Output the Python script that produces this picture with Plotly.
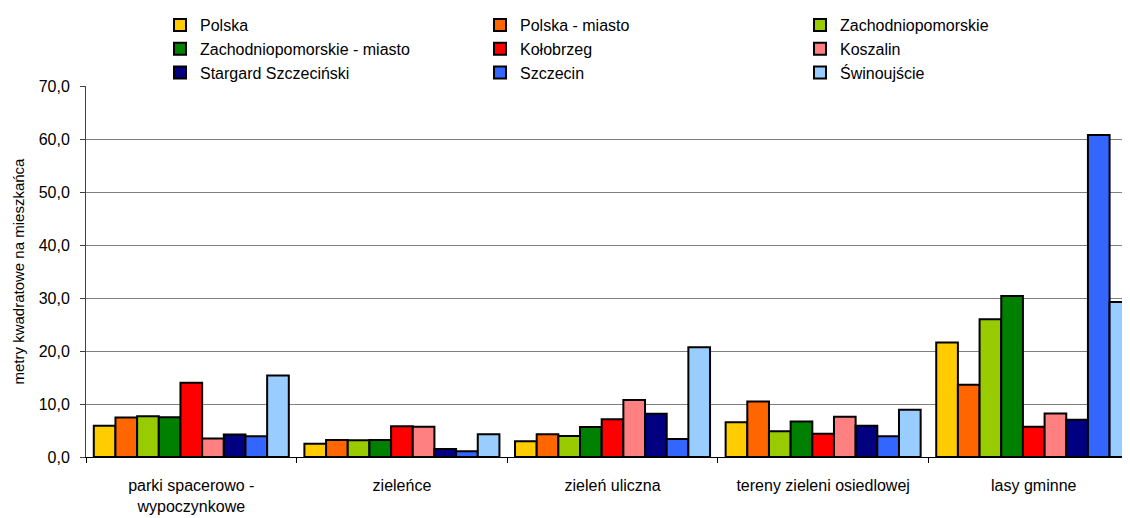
import plotly.graph_objects as go

categories = ["parki spacerowo -<br>wypoczynkowe", "zieleńce", "zieleń uliczna",
              "tereny zieleni osiedlowej", "lasy gminne"]

polska = [5.9, 2.5, 2.95, 6.55, 21.6]
polska_miasto = [7.45, 3.2, 4.3, 10.45, 13.65]
zachodniopomorskie = [7.7, 3.15, 3.95, 4.85, 26.0]
zachodniopomorskie_miasto = [7.5, 3.2, 5.65, 6.7, 30.4]
kolobrzeg = [14.0, 5.8, 7.1, 4.4, 5.7]
koszalin = [3.5, 5.7, 10.75, 7.6, 8.2]
stargard = [4.25, 1.5, 8.15, 5.9, 7.05]
szczecin = [3.9, 1.1, 3.4, 3.9, 60.75]
swinoujscie = [15.4, 4.3, 20.7, 8.9, 29.25]

series_names = ["Polska", "Polska - miasto", "Zachodniopomorskie",
                "Zachodniopomorskie - miasto", "Kołobrzeg", "Koszalin",
                "Stargard Szczeciński", "Szczecin", "Świnoujście"]
series_values = [polska, polska_miasto, zachodniopomorskie,
                 zachodniopomorskie_miasto, kolobrzeg, koszalin,
                 stargard, szczecin, swinoujscie]
series_colors = ["#FFCC00", "#FF6600", "#99CC00", "#008000", "#FF0000",
                 "#FF8080", "#000080", "#3366FF", "#99CCFF"]

y_ticks = [0, 10, 20, 30, 40, 50, 60, 70]
y_title = "metry kwadratowe na mieszkańca"

FONT = "Liberation Sans, Arial, sans-serif"

# the page places the figure 8 px from the window's top-left corner
W, H = 1122, 510
L, T, B, R = 78, 78, 61, 0

fig = go.Figure()
for name, vals, col in zip(series_names, series_values, series_colors):
    fig.add_trace(go.Bar(
        x=categories, y=vals, name=name,
        marker=dict(color=col, line=dict(color="#000000", width=2)),
    ))

fig.add_annotation(
    text=y_title, textangle=-90,
    xref="paper", yref="paper",
    x=(10 - L) / (W - L - R), y=0.5,
    xanchor="center", yanchor="middle",
    showarrow=False,
    font=dict(family=FONT, size=15, color="#000000"),
)

fig.update_layout(
    width=W, height=H,
    barmode="group", bargap=0.074, bargroupgap=0,
    plot_bgcolor="white", paper_bgcolor="white",
    separators=", ",
    font=dict(family=FONT, size=16, color="#000000"),
    margin=dict(l=L, r=R, t=T, b=B, autoexpand=False),
    showlegend=True,
    legend=dict(
        orientation="h",
        xref="container", yref="container",
        x=152 / W, xanchor="left",
        y=1, yanchor="top",
        entrywidth=275, entrywidthmode="pixels",
        font=dict(family=FONT, size=16, color="#000000"),
        bgcolor="rgba(0,0,0,0)",
        traceorder="normal",
        itemwidth=30,
        tracegroupgap=0,
    ),
    xaxis=dict(
        range=[-0.5, 4.457],
        tickson="boundaries",
        ticks="outside", ticklen=5, tickcolor="#000000", tickwidth=1,
        showline=True, linecolor="#000000", linewidth=1,
        showgrid=False,
        tickfont=dict(family=FONT, size=16, color="#000000"),
        ticklabelstandoff=14,
        fixedrange=True,
    ),
    yaxis=dict(
        range=[0, 70],
        tickvals=y_ticks,
        tickformat=".1f",
        ticks="outside", ticklen=5, tickcolor="#404040", tickwidth=1,
        showline=True, linecolor="#404040", linewidth=1,
        showgrid=True, gridcolor="#808080", gridwidth=1,
        zeroline=False,
        tickfont=dict(family=FONT, size=16, color="#000000"),
        ticklabelstandoff=7,
        fixedrange=True,
    ),
)

fig.write_html("out.html")
